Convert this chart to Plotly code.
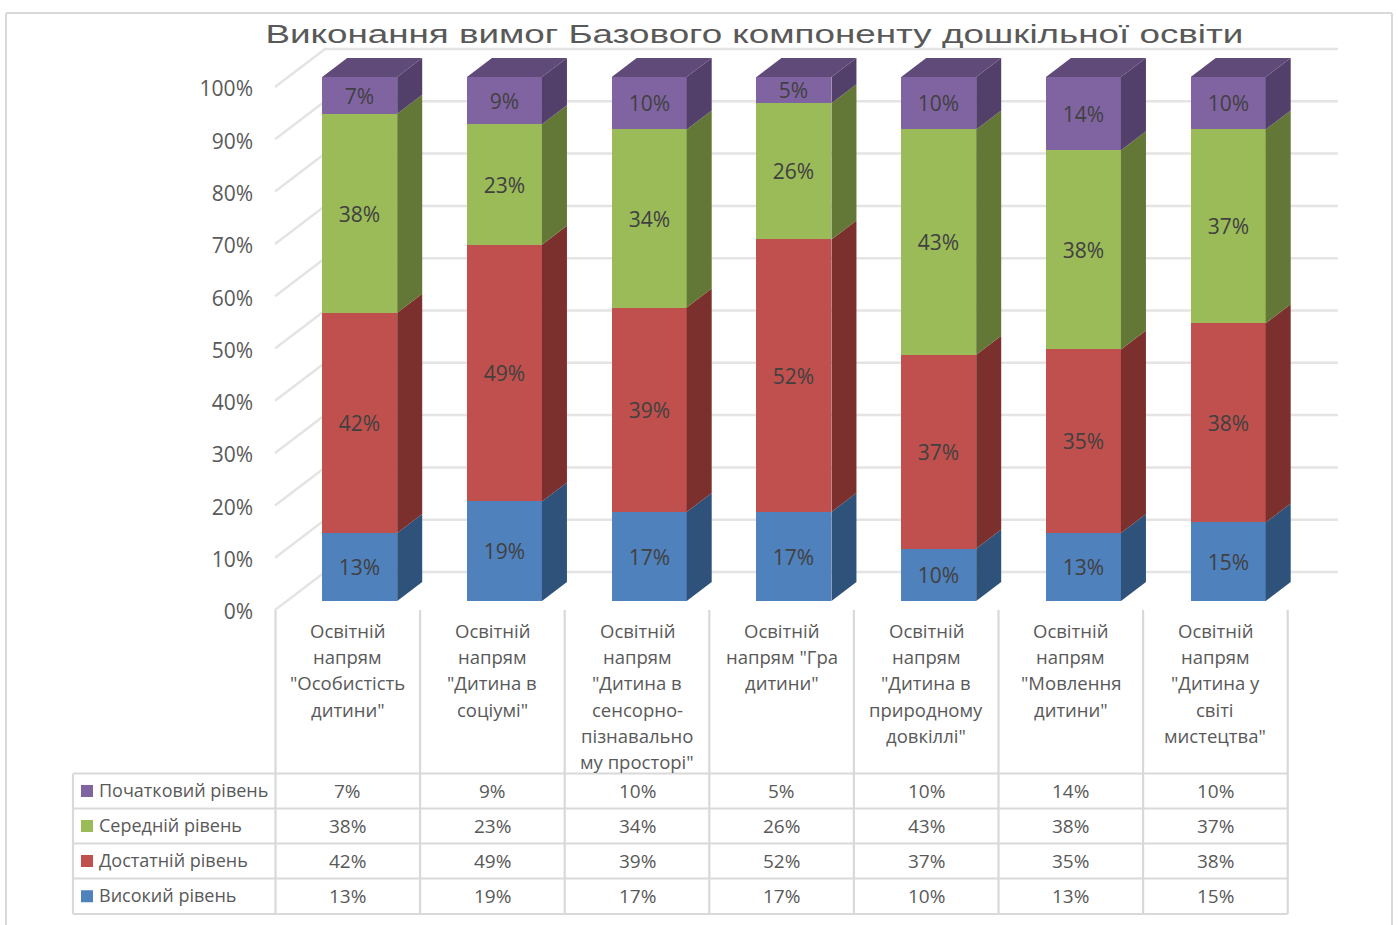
import plotly.graph_objects as go

# ---------- data ----------
TITLE = "Виконання вимог Базового компоненту дошкільної освіти"
categories = [
    'Освітній<br>напрям<br>"Особистість<br>дитини"',
    'Освітній<br>напрям<br>"Дитина в<br>соціумі"',
    'Освітній<br>напрям<br>"Дитина в<br>сенсорно-<br>пізнавально<br>му просторі"',
    'Освітній<br>напрям "Гра<br>дитини"',
    'Освітній<br>напрям<br>"Дитина в<br>природному<br>довкіллі"',
    'Освітній<br>напрям<br>"Мовлення<br>дитини"',
    'Освітній<br>напрям<br>"Дитина у<br>світі<br>мистецтва"',
]
high = [13, 19, 17, 17, 10, 13, 15]
sufficient = [42, 49, 39, 52, 37, 35, 38]
medium = [38, 23, 34, 26, 43, 38, 37]
initial = [7, 9, 10, 5, 10, 14, 10]
series_names = ["Високий рівень", "Достатній рівень", "Середній рівень", "Початковий рівень"]
series_values = [high, sufficient, medium, initial]
y_ticks = [0, 10, 20, 30, 40, 50, 60, 70, 80, 90, 100]

# ---------- style ----------
front_colors = ["#4F81BD", "#C0504D", "#9BBB59", "#8064A2"]
side_colors = ["#2F527B", "#7C302E", "#637736", "#52406A"]
top_color = "#5F4A7A"
grid_color = "#E4E4E4"
line_color = "#D9D9D9"
text_color = "#595959"
label_color = "#404040"
FONT = "Open Sans"

W, H = 1398, 925
BAR_X0, STEP, BAR_PX = 359.7, 144.75, 75      # front-face centre of first bar, spacing, width
BAR_Y0, BAR_K = 601, 5.24                     # pixel of 0 %, pixels per %
WALL_Y0, WALL_K = 610, 5.23                   # front edge of the floor/wall grid
X_RANGE = [-BAR_X0 / STEP, (W - BAR_X0) / STEP]
BAR_RANGE = [(BAR_Y0 - H) / BAR_K, BAR_Y0 / BAR_K]
WALL_RANGE = [(WALL_Y0 - H) / WALL_K, WALL_Y0 / WALL_K]
DX, DY = 25 / STEP, 19 / BAR_K                # bar depth in axis units
xu = lambda p: (p - BAR_X0) / STEP
px = lambda p: p / W
py = lambda p: 1 - p / H

fig = go.Figure()

# gridlines on wall axis (below the bars)
gx, gy = [], []
for t in y_ticks:
    gx += [xu(275), xu(325), xu(1338), None]
    gy += [t, t + 38 / WALL_K, t + 38 / WALL_K, None]
fig.add_trace(go.Scatter(x=gx, y=gy, mode="lines", yaxis="y",
                         line=dict(color=grid_color, width=2.5),
                         hoverinfo="skip", showlegend=False))

# front faces
idx = list(range(len(categories)))
for name, vals, col in zip(series_names, series_values, front_colors):
    fig.add_trace(go.Bar(x=idx, y=vals, name=name, yaxis="y2", width=BAR_PX / STEP,
                         marker=dict(color=col, line=dict(width=0)),
                         text=[f"{v}%" for v in vals], textposition="inside",
                         insidetextanchor="middle", textangle=0, constraintext="none",
                         textfont=dict(family=FONT, size=21, color=label_color),
                         showlegend=False))

# side faces and top faces from the stacked values
half = BAR_PX / STEP / 2
cum = [0] * len(idx)
for vals, col in zip(series_values, side_colors):
    sx, sy = [], []
    for i, v in enumerate(vals):
        a, b = cum[i], cum[i] + v
        r = i + half
        sx += [r, r + DX, r + DX, r, r, None]
        sy += [a, a + DY, b + DY, b, a, None]
        cum[i] = b
    fig.add_trace(go.Scatter(x=sx, y=sy, mode="lines", yaxis="y2", fill="toself",
                             fillcolor=col, line=dict(width=0, color=col),
                             hoverinfo="skip", showlegend=False))
tx, ty = [], []
for i, c in enumerate(cum):
    tx += [i - half, i + half, i + half + DX, i - half + DX, i - half, None]
    ty += [c, c, c + DY, c + DY, c, None]
fig.add_trace(go.Scatter(x=tx, y=ty, mode="lines", yaxis="y2", fill="toself",
                         fillcolor=top_color, line=dict(width=0, color=top_color),
                         hoverinfo="skip", showlegend=False))

# ---------- table and labels ----------
shapes, ann = [], []
def line(x0, y0, x1, y1, w=2.2, c=line_color):
    shapes.append(dict(type="line", xref="paper", yref="paper", x0=px(x0), x1=px(x1),
                       y0=py(y0), y1=py(y1), line=dict(color=c, width=w), layer="below"))
def text(x, y, s, size=18.5, color=text_color, anchor="center", family=FONT):
    ann.append(dict(xref="paper", yref="paper", x=px(x), y=py(y), text=s, showarrow=False,
                    xanchor=anchor, yanchor="middle",
                    font=dict(family=family, size=size, color=color)))

# chart frame
line(6, 13, 1392, 13, 2)
line(6, 13, 6, 925, 2)
line(1392, 13, 1392, 925, 2)

COL0, COLW = 275.5, 144.6
for i in range(len(categories) + 1):
    line(COL0 + COLW * i, 610, COL0 + COLW * i, 914)
rows_y = [773.5, 808.5, 843.5, 878.5, 914]
for y in rows_y:
    line(73, y, COL0 + COLW * len(categories), y)
line(73, 773.5, 73, 914)

for i, cat in enumerate(categories):
    for j, part in enumerate(cat.split("<br>")):
        text(COL0 + COLW * (i + 0.5), 630.5 + 26.2 * j, part)

for r, k in enumerate([3, 2, 1, 0]):
    yc = (rows_y[r] + rows_y[r + 1]) / 2
    shapes.append(dict(type="rect", xref="paper", yref="paper", x0=px(81), x1=px(93),
                       y0=py(yc - 6), y1=py(yc + 6), fillcolor=front_colors[k],
                       line=dict(width=0)))
    text(96.5, yc - 1, series_names[k], anchor="left", size=18)
    for i, v in enumerate(series_values[k]):
        text(COL0 + COLW * (i + 0.5), yc - 0.5, f"{v}%", size=19)

text(754, 34, TITLE, size=25, family="Liberation Sans", color="#595959")

fig.update_layout(
    width=W, height=H, margin=dict(l=0, r=0, t=0, b=0), autosize=False,
    paper_bgcolor="white", plot_bgcolor="rgba(0,0,0,0)",
    barmode="stack", bargap=0,
    shapes=shapes, annotations=ann,
    xaxis=dict(range=X_RANGE, visible=False, fixedrange=True),
    yaxis=dict(range=WALL_RANGE, anchor="free", position=px(253), side="left",
               tickmode="array", tickvals=y_ticks, ticktext=[f"{t}%" for t in y_ticks],
               showgrid=False, zeroline=False, showline=False, ticks="",
               ticklabelshift=2,
               tickfont=dict(family=FONT, size=21, color=text_color), fixedrange=True),
    yaxis2=dict(range=BAR_RANGE, overlaying="y", visible=False, fixedrange=True),
)

# widen the title glyphs as in the reference (the text stays real text)
post = """
document.body.style.margin='0';document.body.style.overflow='hidden';
function stretchTitle(){
  document.querySelectorAll('.annotation-text').forEach(function(t){
    if(t.textContent.indexOf('Виконання')===0){
      t.setAttribute('textLength','978');
      t.setAttribute('lengthAdjust','spacingAndGlyphs');
    }
  });
}
stretchTitle();
var gd=document.getElementById('{plot_id}');
if(gd&&gd.on){gd.on('plotly_afterplot',stretchTitle);}
setTimeout(stretchTitle,50);setTimeout(stretchTitle,300);
"""
fig.write_html("out.html", config=dict(displayModeBar=False), post_script=post)
